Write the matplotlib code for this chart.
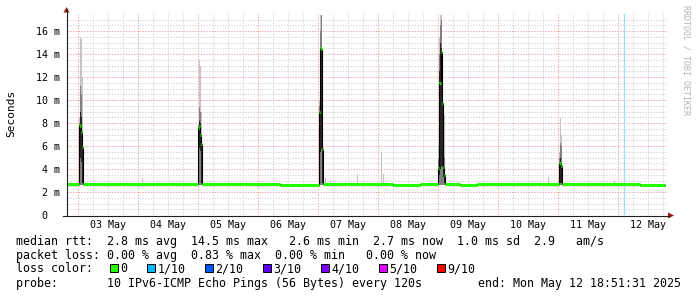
import matplotlib
matplotlib.use("Agg")
import matplotlib.pyplot as plt
from matplotlib.patches import Rectangle, Polygon
from matplotlib.lines import Line2D

# tiempo en horas desde 03 May 00:00, un paso del rrd = 0.4 h
paso = 0.4

# linea base de la mediana (ms)
base_ini = [-4.6, 2.0, 49.6, 80.8, 98.0, 111.6, 126.0, 136.8, 146.8, 152.8, 159.6, 193.6, 224.8]
base_fin = [0.4, 48.0, 80.8, 96.4, 111.6, 126.0, 136.8, 144.0, 152.8, 159.6, 192.4, 224.8, 234.86]
base_ms = [2.70, 2.72, 2.72, 2.64, 2.72, 2.72, 2.64, 2.72, 2.72, 2.64, 2.72, 2.72, 2.64]

# picos: columnas del rrd con mediana y humo
pico_t = [0.4, 0.8, 1.2, 1.6,
          48.0, 48.4, 48.8, 49.2,
          96.4, 96.8, 97.2, 97.6,
          144.0, 144.4, 144.8, 145.2, 145.6, 146.0, 146.4,
          192.4, 192.8, 193.2]
pico_med = [7.8, 7.7, 7.2, 5.9,
            7.6, 7.7, 7.0, 6.2,
            9.0, 14.5, 14.4, 5.7,
            4.1, 11.5, 11.5, 14.2, 9.7, 4.2, 3.5,
            4.5, 4.5, 4.3]
oscuro_min = [2.8, 5.0, 4.6, 2.8,
              2.8, 5.8, 5.6, 2.8,
              2.8, 5.5, 5.7, 2.8,
              2.8, 3.5, 4.0, 4.3, 4.2, 3.3, 2.8,
              2.8, 2.8, 2.8]
oscuro_max = [7.8, 9.0, 8.5, 6.4,
              7.6, 8.2, 8.0, 6.4,
              9.0, 14.5, 14.4, 5.7,
              4.1, 12.5, 15.0, 14.5, 9.7, 4.2, 3.5,
              4.5, 5.0, 4.5]
medio_max = [8.0, 11.2, 10.5, 7.0,
             7.8, 9.4, 9.0, 7.0,
             9.5, 16.0, 17.4, 6.5,
             5.0, 14.0, 16.5, 17.0, 11.0, 6.0, 5.0,
             5.0, 6.3, 6.0]
claro_max = [8.5, 15.5, 15.3, 12.0,
             8.0, 13.5, 13.0, 9.0,
             10.0, 17.4, 17.4, 7.0,
             6.0, 15.5, 17.4, 17.4, 11.5, 8.7, 8.7,
             5.5, 8.4, 7.0]

# humo suelto sobre la linea base
humo_t = [25.6, 98.8, 100.8, 111.6, 121.2, 122.0, 188.0, 214.4]
humo_max = [3.2, 3.2, 3.0, 3.6, 5.5, 3.6, 3.3, 3.0]

vrule_t = 218.4

dias = ["03 May", "04 May", "05 May", "06 May", "07 May",
        "08 May", "09 May", "10 May", "11 May", "12 May"]
y_vals = [0, 2, 4, 6, 8, 10, 12, 14, 16]
y_etiq = ["0  ", "2 m", "4 m", "6 m", "8 m", "10 m", "12 m", "14 m", "16 m"]

perdida_col = ["#26ff00", "#00b8ff", "#0059ff", "#5e00ff", "#7e00ff", "#dd00ff", "#ff0000"]
perdida_txt = ["0", "1/10", "2/10", "3/10", "4/10", "5/10", "9/10"]

linea1 = "median rtt:  2.8 ms avg  14.5 ms max   2.6 ms min  2.7 ms now  1.0 ms sd  2.9   am/s"
linea2 = "packet loss: 0.00 % avg  0.83 % max  0.00 % min   0.00 % now"
linea4 = "probe:       10 IPv6-ICMP Echo Pings (56 Bytes) every 120s"
fin_txt = "end: Mon May 12 18:51:31 2025"

mono = "DejaVu Sans Mono"
plt.rcParams["lines.scale_dashes"] = False

W, H = 697, 297
def fx(x):
    return x / W
def fy(y):
    return 1 - y / H

fig = plt.figure(figsize=(W / 100, H / 100), dpi=100)
fig.patch.set_facecolor("white")
ax = fig.add_axes([fx(66.5), fy(215), 600 / W, 201 / H])
ax.set_xlim(-4.6, 235.4)
ax.set_ylim(0, 201 / 11.5)
for s in ax.spines.values():
    s.set_visible(False)

# rejilla
punteado = (0, (1, 1))
for h in range(-0, 236, 6):
    if h % 24 != 0:
        ax.axvline(h, color="#d6d6d6", lw=0.72, ls=punteado, zorder=0)
for k in range(0, 35):
    v = k * 0.5
    if k % 4 != 0:
        ax.axhline(v, color="#d6d6d6", lw=0.72, ls=punteado, zorder=0)
for h in range(0, 236, 24):
    ax.axvline(h, color="#f4a8a8", lw=0.72, ls=punteado, zorder=0.5)
for v in y_vals[1:]:
    ax.axhline(v, color="#f4a8a8", lw=0.72, ls=punteado, zorder=0.5)

# humo
ax.bar(humo_t, [m - 2.6 for m in humo_max], bottom=2.6, width=paso, align="edge",
       color="#c0c0c0", lw=0, zorder=1)
ax.bar(pico_t, [m - 2.6 for m in claro_max], bottom=2.6, width=paso, align="edge",
       color="#c4c4c4", lw=0, zorder=1)
ax.bar(pico_t, [m - 2.6 for m in medio_max], bottom=2.6, width=paso, align="edge",
       color="#808080", lw=0, zorder=1.1)
ax.bar(pico_t, [a - b for a, b in zip(oscuro_max, oscuro_min)], bottom=oscuro_min,
       width=paso, align="edge", color="#262626", lw=0, zorder=1.2)

# mediana: tramos ordenados
tramos = [(a, b, v) for a, b, v in zip(base_ini, base_fin, base_ms)]
tramos += [(t, t + paso, v) for t, v in zip(pico_t, pico_med)]
tramos.sort()
xs, ys = [], []
for a, b, v in tramos:
    xs += [a, b]
    ys += [v, v]
ax.plot(xs, ys, color="black", lw=0.8, zorder=2)
ax.hlines([v for _, _, v in tramos], [a for a, _, _ in tramos], [b for _, b, _ in tramos],
          color="#26ff00", lw=2.2, zorder=3)

ax.axvline(vrule_t, color="#a0dcff", lw=0.9, zorder=2.5)

# ejes
ax.set_yticks(y_vals, y_etiq)
ax.set_xticks([12 + 24 * i for i in range(len(dias))], dias)
ax.tick_params(axis="y", length=0, pad=4.6, labelsize=7.2)
ax.tick_params(axis="x", length=0, pad=3.8, labelsize=7.2)
for lab in ax.get_xticklabels() + ax.get_yticklabels():
    lab.set_family(mono)

fig.add_artist(Line2D([fx(66.5), fx(66.5)], [fy(215.5), fy(9)], color="#202020", lw=0.8))
fig.add_artist(Line2D([fx(63), fx(669)], [fy(215.5), fy(215.5)], color="#202020", lw=0.8))
fig.add_artist(Polygon([(fx(63.5), fy(12.5)), (fx(69.5), fy(12.5)), (fx(66.5), fy(7))],
                       closed=True, color="#901818", lw=0))
fig.add_artist(Polygon([(fx(668), fy(212.5)), (fx(668), fy(218.5)), (fx(674), fy(215.5))],
                       closed=True, color="#901818", lw=0))

fig.text(fx(11), fy(113), "Seconds", rotation=90, ha="center", va="center",
         family=mono, fontsize=8)
fig.text(fx(686), fy(5), "RRDTOOL / TOBI OETIKER", rotation=270, ha="center", va="top",
         family=mono, fontsize=6, color="#b4b4b4")

# leyenda
fig.text(fx(16), fy(244.5), linea1, family=mono, fontsize=8.4, va="baseline")
fig.text(fx(16), fy(258.5), linea2, family=mono, fontsize=8.4, va="baseline")
fig.text(fx(16), fy(272.5), "loss color:", family=mono, fontsize=8.4, va="baseline")
txt_x = [120.5, 157.5, 215.5, 273.5, 331.5, 389.5, 447.5]
for x, c, t in zip(txt_x, perdida_col, perdida_txt):
    fig.add_artist(Rectangle((fx(x - 11), fy(272)), 8 / W, 8 / H, facecolor=c,
                             edgecolor="black", lw=0.7))
    fig.text(fx(x), fy(272.5), t, family=mono, fontsize=8.4, va="baseline")
fig.text(fx(16), fy(286.5), linea4, family=mono, fontsize=8.4, va="baseline")
fig.text(fx(478), fy(286.5), fin_txt, family=mono, fontsize=8.4, va="baseline")

fig.savefig("out.png", dpi=100, facecolor="white")
